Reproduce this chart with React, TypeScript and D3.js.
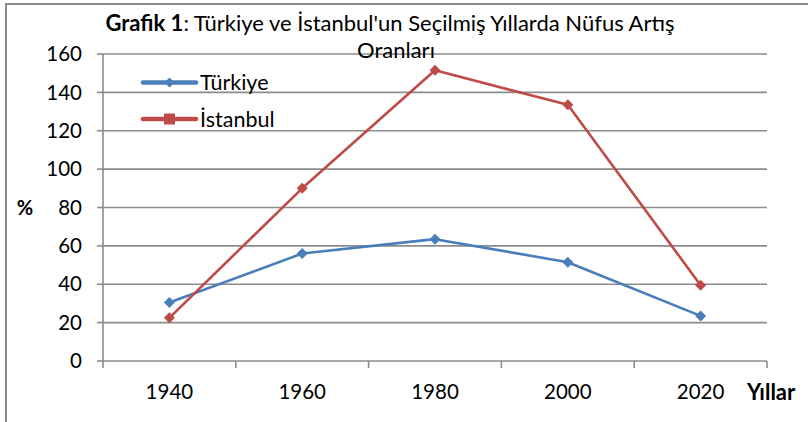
import React from "react";
import * as d3 from "d3";

const years = ["1940", "1960", "1980", "2000", "2020"];
const turkiye = [30.5, 56, 63.5, 51.5, 23.5];
const istanbul = [22.5, 90, 151.5, 133.5, 39.5];
const yTicks = [0, 20, 40, 60, 80, 100, 120, 140, 160];
const seriesNames = ["Türkiye", "İstanbul"];

const W = 808;
const H = 422;
const FONT = "Lato, 'Open Sans', sans-serif";
const GRID = "#8c8c8c";
const BLUE = "#4a7ebb";
const RED = "#be4b48";

const diamond = (r: number) => `M0,${-r}L${r},0L0,${r}L${-r},0Z`;

export default function App() {
  const x = d3.scaleBand<string>().domain(years).range([103, 767]).padding(0);
  const y = d3.scaleLinear().domain([0, 160]).range([361, 54]);
  const line = d3
    .line<number>()
    .x((_, i) => (x(years[i]) as number) + x.bandwidth() / 2)
    .y((d) => y(d));

  const series = [
    { name: seriesNames[0], values: turkiye, color: BLUE },
    { name: seriesNames[1], values: istanbul, color: RED },
  ];
  const bounds = years.map((yr) => x(yr) as number).concat([x.range()[1]]);

  return (
    <svg
      width={W}
      height={H}
      style={{ position: "absolute", left: 0, top: 0, background: "#fff" }}
      fontFamily={FONT}
    >
      {/* outer frame (cropped) */}
      <path d={`M6,${H}V4H${W}`} fill="none" stroke={GRID} strokeWidth={2} />

      {/* gridlines */}
      {yTicks.slice(1).map((t) => (
        <line key={t} x1={x.range()[0]} x2={x.range()[1]} y1={y(t)} y2={y(t)} stroke={GRID} strokeWidth={1.6} />
      ))}

      {/* y axis */}
      <line x1={103} x2={103} y1={y(160)} y2={y(0)} stroke={GRID} strokeWidth={1.6} />
      {yTicks.map((t) => (
        <g key={t}>
          <line x1={97} x2={103} y1={y(t)} y2={y(t)} stroke={GRID} strokeWidth={1.6} />
          <text x={82} y={y(t)} dy="0.35em" textAnchor="end" fontSize={20.5} fill="#000">
            {t}
          </text>
        </g>
      ))}

      {/* x axis */}
      <line x1={x.range()[0]} x2={x.range()[1]} y1={y(0)} y2={y(0)} stroke={GRID} strokeWidth={1.6} />
      {bounds.map((b, i) => (
        <line key={i} x1={b} x2={b} y1={y(0)} y2={y(0) + 7} stroke={GRID} strokeWidth={1.6} />
      ))}
      {years.map((yr) => (
        <text key={yr} x={(x(yr) as number) + x.bandwidth() / 2} y={392} dy="0.35em" textAnchor="middle" fontSize={20.5} fill="#000">
          {yr}
        </text>
      ))}

      {/* series */}
      {series.map((s) => (
        <g key={s.name}>
          <path d={line(s.values) || ""} fill="none" stroke={s.color} strokeWidth={2.6} strokeLinejoin="round" />
          {s.values.map((v, i) => (
            <path
              key={i}
              d={diamond(5.5)}
              transform={`translate(${(x(years[i]) as number) + x.bandwidth() / 2},${y(v)})`}
              fill={s.color}
            />
          ))}
        </g>
      ))}

      {/* legend */}
      {series.map((s, i) => {
        const ly = i === 0 ? 82.5 : 119;
        return (
          <g key={s.name}>
            <line x1={143} x2={196} y1={ly} y2={ly} stroke={s.color} strokeWidth={4.5} strokeLinecap="round" />
            {i === 0 ? (
              <path d={diamond(5)} transform={`translate(169.5,${ly})`} fill={s.color} />
            ) : (
              <rect x={164} y={ly - 5.5} width={11} height={11} fill={s.color} />
            )}
            <text x={200} y={ly} dy="0.35em" fontSize={21.5} fill="#000">
              {s.name}
            </text>
          </g>
        );
      })}

      {/* title */}
      <text x={390} y={31} textAnchor="middle" fontSize={22} fill="#000">
        <tspan fontWeight="bold">Grafik 1</tspan>
        <tspan>: Türkiye ve İstanbul'un Seçilmiş Yıllarda Nüfus Artış</tspan>
      </text>
      <text x={396} y={58} textAnchor="middle" fontSize={22} fill="#000">
        Oranları
      </text>

      {/* axis titles */}
      <text x={25} y={208} dy="0.35em" textAnchor="middle" fontSize={20} fontWeight="bold" fill="#000">
        %
      </text>
      <text x={747} y={392} dy="0.35em" fontSize={22} fontWeight="bold" fill="#000">
        Yıllar
      </text>
    </svg>
  );
}
